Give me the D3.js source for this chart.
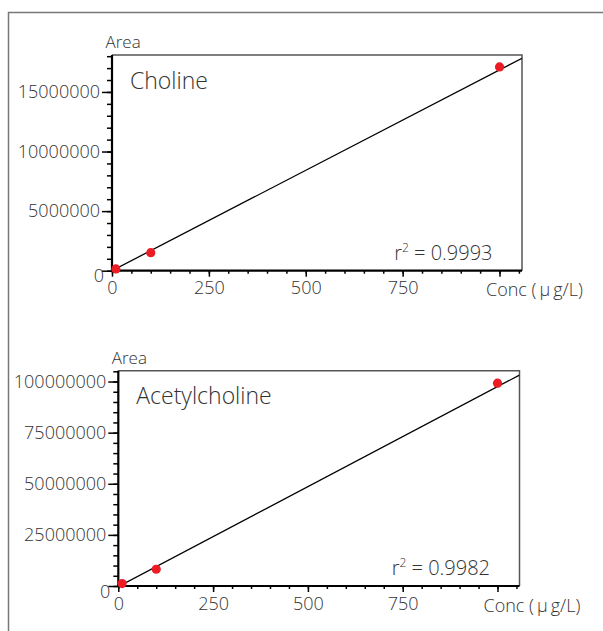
<!DOCTYPE html>
<html>
<head>
<meta charset="utf-8">
<script src="https://cdn.jsdelivr.net/npm/d3@7"></script>
<style>
  body { margin: 0; background: #fff; }
  text { font-family: "Open Sans", sans-serif; font-weight: 300; fill: #333; }
</style>
</head>
<body>
<div id="chart"></div>
<script>
// calibration data
var concLevels = [10, 100, 1000];
var cholineArea = [150000, 1510000, 17100000];
var acetylArea = [1200000, 8200000, 99200000];

var compounds = ["Choline", "Acetylcholine"];
var r2Labels = ["0.9993", "0.9982"];
var fitSlope = [16850, 97800];
var fitIntercept = [0, -310000];

var concTicks = [0, 250, 500, 750, 1000];
var concLabels = [0, 250, 500, 750];   // 1000 is left blank, the unit label sits there
var cholineTicks = [0, 5000000, 10000000, 15000000];
var acetylTicks = [0, 25000000, 50000000, 75000000, 100000000];
var yMinorStep = [1000000, 5000000];
var xMinorStep = 50;
var xMax = 1058;
var yMax = [18100000, 105300000];

var width = 603, height = 631;

var svg = d3.select('#chart')
            .append('svg')
            .attr('width', width)
            .attr('height', height);

// outer frame (only left and top edges are visible)
svg.append('path')
   .attr('d', 'M8.5,' + height + 'V12.5H' + width)
   .attr('fill', 'none')
   .attr('stroke', '#777')
   .attr('stroke-width', 1.5);

var panels = [
    { box: { left: 112, top: 55, right: 522, bottom: 270.7 }, area: cholineArea, ticks: cholineTicks },
    { box: { left: 118.3, top: 370.7, right: 519.5, bottom: 586 }, area: acetylArea, ticks: acetylTicks }
];

panels.forEach(function (p, i) {
    var b = p.box;
    var x = d3.scaleLinear().domain([0, xMax]).range([b.left, b.right]);
    var y = d3.scaleLinear().domain([0, yMax[i]]).range([b.bottom, b.top]);

    var g = svg.append('g');

    // clip for the fit line
    g.append('clipPath')
     .attr('id', 'clip' + i)
     .append('rect')
     .attr('x', b.left).attr('y', b.top)
     .attr('width', b.right - b.left).attr('height', b.bottom - b.top);

    // top / right frame
    g.append('path')
     .attr('d', 'M' + b.left + ',' + b.top + 'H' + b.right + 'V' + b.bottom)
     .attr('fill', 'none')
     .attr('stroke', '#555')
     .attr('stroke-width', 1.5);

    // minor ticks
    var yMinor = d3.range(0, yMax[i], yMinorStep[i]);
    var xMinor = d3.range(0, xMax, xMinorStep);

    var ayMinor = g.append('g')
        .attr('transform', 'translate(' + b.left + ',0)')
        .call(d3.axisLeft(y).tickValues(yMinor).tickSize(5).tickFormat(''));
    var axMinor = g.append('g')
        .attr('transform', 'translate(0,' + b.bottom + ')')
        .call(d3.axisBottom(x).tickValues(xMinor).tickSize(3).tickFormat(''));

    // major ticks
    var ay = g.append('g')
        .attr('transform', 'translate(' + b.left + ',0)')
        .call(d3.axisLeft(y).tickValues(p.ticks).tickSize(10).tickPadding(2).tickFormat(d3.format('d')));
    var ax = g.append('g')
        .attr('transform', 'translate(0,' + b.bottom + ')')
        .call(d3.axisBottom(x).tickValues(concTicks).tickSize(6).tickPadding(5)
                .tickFormat(function (d) { return concLabels.indexOf(d) >= 0 ? d : ''; }));

    [ayMinor, axMinor, ay, ax].forEach(function (a) {
        a.select('.domain').remove();
        a.selectAll('line').attr('stroke', '#000').attr('stroke-width', 1.5);
        a.selectAll('text')
         .style('font-family', '"Open Sans", sans-serif')
         .style('font-size', '18px')
         .attr('fill', '#333');
    });

    // zero label on the y axis sits a bit lower
    ay.selectAll('.tick text')
      .filter(function (d) { return d === 0; })
      .attr('x', -8)
      .attr('dy', '0.62em');

    // thick axis lines
    g.append('line')
     .attr('x1', b.left).attr('x2', b.left)
     .attr('y1', b.top).attr('y2', b.bottom + 1)
     .attr('stroke', '#000').attr('stroke-width', 2.2);
    g.append('line')
     .attr('x1', b.left - 1).attr('x2', b.right)
     .attr('y1', b.bottom).attr('y2', b.bottom)
     .attr('stroke', '#000').attr('stroke-width', 2.2);

    // fit line
    var fit = function (c) { return fitSlope[i] * c + fitIntercept[i]; };
    g.append('line')
     .attr('clip-path', 'url(#clip' + i + ')')
     .attr('x1', x(0)).attr('y1', y(fit(0)))
     .attr('x2', x(xMax)).attr('y2', y(fit(xMax)))
     .attr('stroke', '#000').attr('stroke-width', 1.3);

    // data points
    g.selectAll('circle')
     .data(concLevels.map(function (c, k) { return [c, p.area[k]]; }))
     .enter()
     .append('circle')
     .attr('cx', function (d) { return x(d[0]); })
     .attr('cy', function (d) { return y(d[1]); })
     .attr('r', 4.6)
     .attr('fill', '#ec1c24');

    // texts
    g.append('text')
     .attr('x', b.left - 6.5)
     .attr('y', b.top - 7)
     .style('font-size', '17px')
     .text('Area');

    g.append('text')
     .attr('x', b.left + 18)
     .attr('y', b.top + 33.5)
     .style('font-size', '23px')
     .text(compounds[i]);

    var r2 = g.append('text')
     .attr('x', b.right - 29.5)
     .attr('y', b.bottom - 11)
     .attr('text-anchor', 'end')
     .style('font-size', '20px');
    r2.append('tspan').text('r');
    r2.append('tspan').attr('dy', -8).style('font-size', '12px').text('2');
    r2.append('tspan').attr('dy', 8).text(' = ' + r2Labels[i]);

    var unit = g.append('text')
     .attr('x', b.right - 36)
     .attr('y', b.bottom + 25.5)
     .style('font-size', '18px');
    unit.append('tspan').text('Conc (');
    unit.append('tspan').attr('dx', 3).text('μ');
    unit.append('tspan').attr('dx', 3).text('g/L)');
});
</script>
</body>
</html>
